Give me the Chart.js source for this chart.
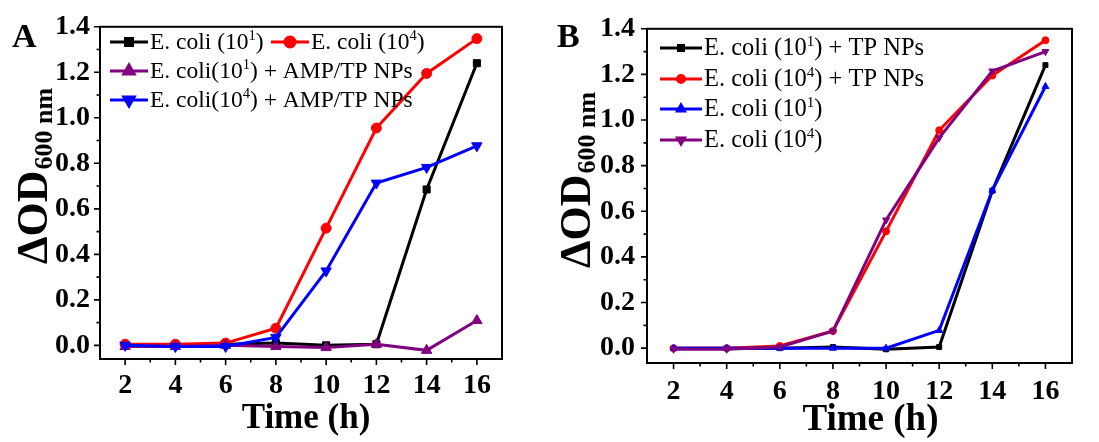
<!DOCTYPE html>
<html>
<head>
<meta charset="utf-8">
<script src="https://cdn.jsdelivr.net/npm/chart.js@4/dist/chart.umd.min.js"></script>
<style>
  body { margin: 0; background: #fff; width: 1099px; height: 442px; position: relative; overflow: hidden; }
  canvas { position: absolute; top: 0; }
  #chartA { left: 0; }
  #chartB { left: 550px; }
</style>
</head>
<body>
<canvas id="chartA" width="549" height="442"></canvas>
<canvas id="chartB" width="549" height="442"></canvas>
<script>
const hours = [2, 4, 6, 8, 10, 12, 14, 16];
const xTicks = [2, 4, 6, 8, 10, 12, 14, 16];
const yTicks = [0, 0.2, 0.4, 0.6, 0.8, 1.0, 1.2, 1.4];

// panel A
const labelsA = ["E. coli (10^1)", "E. coli (10^4)", "E. coli(10^1) + AMP/TP NPs", "E. coli(10^4) + AMP/TP NPs"];
const a101 = [0.0, 0.0, 0.005, 0.01, 0.0, 0.005, 0.685, 1.24];
const a104 = [0.005, 0.005, 0.01, 0.075, 0.515, 0.955, 1.195, 1.348];
const a101amp = [-0.005, -0.005, 0.0, -0.005, -0.01, 0.005, -0.022, 0.109];
const a104amp = [0.0, -0.005, -0.005, 0.035, 0.327, 0.713, 0.782, 0.877];

// panel B
const labelsB = ["E. coli (10^1) + TP NPs", "E. coli (10^4) + TP NPs", "E. coli (10^1)", "E. coli (10^4)"];
const b101tp = [0.0, 0.0, 0.0, 0.005, -0.005, 0.005, 0.69, 1.241];
const b104tp = [0.0, 0.0, 0.01, 0.075, 0.512, 0.955, 1.195, 1.35];
const b101 = [0.0, 0.0, 0.0, 0.0, 0.0, 0.078, 0.692, 1.147];
const b104 = [-0.005, -0.005, 0.005, 0.075, 0.562, 0.922, 1.215, 1.30];

const BLACK = "#000000", RED = "#ff0000", PURPLE = "#800080", BLUE = "#0000ff";

function series(label, data, color, style, rot, radius, order) {
  return {
    label, data, order,
    borderColor: color, backgroundColor: color,
    borderWidth: 3,
    pointStyle: style, pointRotation: rot,
    pointRadius: radius, pointBackgroundColor: color, pointBorderColor: color, pointBorderWidth: 1,
    clip: false
  };
}

function drawRich(ctx, text, x, y, size) {
  // "^" marks a one-character superscript
  let cx = x;
  for (let i = 0; i < text.length; i++) {
    if (text[i] === "^") {
      ctx.font = (size * 0.62) + "px 'Liberation Serif'";
      ctx.fillText(text[i + 1], cx, y - size * 0.38);
      cx += ctx.measureText(text[i + 1]).width;
      i++;
    } else {
      ctx.font = size + "px 'Liberation Serif'";
      ctx.fillText(text[i], cx, y);
      cx += ctx.measureText(text[i]).width;
    }
  }
}

const frame = {
  id: "frame",
  afterDraw(chart) {
    const o = chart.options.plugins.frame;
    const { ctx, chartArea: a, scales: { x, y } } = chart;
    ctx.save();
    ctx.strokeStyle = "#000";
    ctx.lineWidth = 2;
    ctx.strokeRect(a.left, a.top, a.right - a.left, a.bottom - a.top);

    // outward ticks, major + minor
    ctx.lineWidth = 1.6;
    ctx.beginPath();
    xTicks.forEach((v, i) => {
      const px = x.getPixelForValue(v);
      ctx.moveTo(px, a.bottom); ctx.lineTo(px, a.bottom + 6);
      if (i < xTicks.length - 1) {
        const mx = x.getPixelForValue((v + xTicks[i + 1]) / 2);
        ctx.moveTo(mx, a.bottom); ctx.lineTo(mx, a.bottom + 3.5);
      }
    });
    yTicks.forEach((v, i) => {
      const py = y.getPixelForValue(v);
      ctx.moveTo(a.left, py); ctx.lineTo(a.left - 6, py);
      if (i < yTicks.length - 1) {
        const my = y.getPixelForValue((v + yTicks[i + 1]) / 2);
        ctx.moveTo(a.left, my); ctx.lineTo(a.left - 3.5, my);
      }
    });
    ctx.stroke();

    // legend inside the plot
    ctx.fillStyle = "#000";
    ctx.textBaseline = "alphabetic";
    ctx.textAlign = "left";
    o.legend.forEach(item => {
      const ds = chart.data.datasets[item.i];
      ctx.strokeStyle = ds.borderColor;
      ctx.lineWidth = 3;
      ctx.beginPath();
      ctx.moveTo(item.x, item.y); ctx.lineTo(item.x + o.lineLen, item.y);
      ctx.stroke();
      ctx.fillStyle = ds.borderColor;
      Chart.helpers.drawPoint(ctx, { pointStyle: ds.pointStyle, rotation: ds.pointRotation, radius: ds.pointRadius, borderWidth: 1 }, item.x + o.lineLen / 2, item.y);
      ctx.fillStyle = "#000";
      drawRich(ctx, ds.label, item.x + o.lineLen + 2, item.y + 7, o.legendSize);
    });

    // panel letter
    ctx.font = "bold 34px 'Liberation Serif'";
    ctx.fillText(o.letter, o.letterX, o.letterY);

    // x title
    ctx.font = "bold " + o.xTitleSize + "px 'Liberation Serif'";
    ctx.textAlign = "center";
    ctx.fillText("Time (h)", (a.left + a.right) / 2 + o.xTitleShift, o.xTitleY);

    // y title with subscript
    ctx.translate(o.yTitleX, o.yTitleY);
    ctx.rotate(-Math.PI / 2);
    ctx.textAlign = "left";
    ctx.font = "bold 44px 'Liberation Serif'";
    ctx.fillText("\u0394OD", 0, 0);
    const w = ctx.measureText("\u0394OD").width;
    ctx.font = "bold 26px 'Liberation Serif'";
    ctx.fillText("600 nm", w + 1, 5);
    ctx.restore();
  }
};

function makeChart(id, datasets, g) {
  return new Chart(document.getElementById(id), {
    type: "line",
    data: { datasets: datasets.map(d => ({ ...d, data: d.data.map((v, i) => ({ x: hours[i], y: v })) })) },
    options: {
      responsive: false,
      animation: false,
      layout: { padding: { left: 0, right: g.padRight, top: g.padTop, bottom: 0 } },
      plugins: { legend: { display: false }, tooltip: { enabled: false }, frame: g.frame },
      scales: {
        x: {
          type: "linear", min: 1, max: 17,
          grid: { display: false, drawTicks: false },
          border: { display: false },
          afterBuildTicks: s => { s.ticks = xTicks.map(v => ({ value: v })); },
          afterFit: s => { s.height = g.xHeight; },
          ticks: { color: "#000", padding: g.xPad, font: { family: "'Liberation Serif'", weight: "bold", size: 28 }, callback: v => String(v) }
        },
        y: {
          min: g.yMin, max: 1.4,
          grid: { display: false, drawTicks: false },
          border: { display: false },
          afterBuildTicks: s => { s.ticks = yTicks.map(v => ({ value: v })); },
          afterFit: s => { s.width = g.yWidth; },
          ticks: { color: "#000", padding: g.yPad, font: { family: "'Liberation Serif'", weight: "bold", size: 28 }, callback: v => Number(v).toFixed(1) }
        }
      }
    },
    plugins: [frame]
  });
}

makeChart("chartA", [
  series(labelsA[0], a101, BLACK, "rect", 0, 5, 3),
  series(labelsA[1], a104, RED, "circle", 0, 5, 2),
  series(labelsA[2], a101amp, PURPLE, "triangle", 0, 6, 1),
  series(labelsA[3], a104amp, BLUE, "triangle", 180, 6, 0)
], {
  padRight: 47, padTop: 23, xHeight: 83, yWidth: 100, yMin: -0.06, xPad: 10, yPad: 10,
  frame: {
    letter: "A", letterX: 12, letterY: 47,
    xTitleShift: 5, xTitleY: 428, xTitleSize: 35,
    yTitleX: 47, yTitleY: 264,
    lineLen: 38, legendSize: 23.5,
    legend: [
      { i: 0, x: 110, y: 42 }, { i: 1, x: 271, y: 42 },
      { i: 2, x: 110, y: 71 }, { i: 3, x: 110, y: 100 }
    ]
  }
});

makeChart("chartB", [
  series(labelsB[0], b101tp, BLACK, "rect", 0, 3.5, 3),
  series(labelsB[1], b104tp, RED, "circle", 0, 3.5, 2),
  series(labelsB[2], b101, BLUE, "triangle", 0, 4, 1),
  series(labelsB[3], b104, PURPLE, "triangle", 180, 4, 0)
], {
  padRight: 27, padTop: 24, xHeight: 79, yWidth: 97, yMin: -0.065, xPad: 12, yPad: 12,
  frame: {
    letter: "B", letterX: 7, letterY: 47,
    xTitleShift: 11, xTitleY: 430, xTitleSize: 37,
    yTitleX: 40, yTitleY: 268,
    lineLen: 42, legendSize: 24.5,
    legend: [
      { i: 0, x: 110, y: 48 }, { i: 1, x: 110, y: 79 },
      { i: 2, x: 110, y: 109 }, { i: 3, x: 110, y: 140 }
    ]
  }
});
</script>
</body>
</html>
